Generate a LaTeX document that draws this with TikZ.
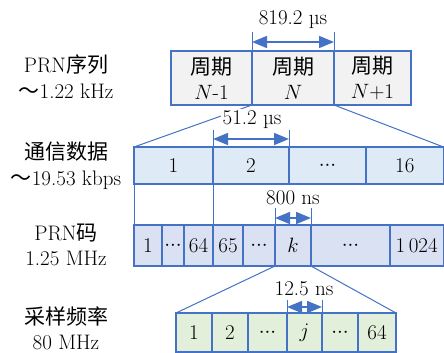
\documentclass[tikz,border=0pt]{standalone}
\usepackage{fontspec}
\newfontfamily\cjk{Noto Sans CJK SC}
\usetikzlibrary{arrows.meta}
\definecolor{lblue}{HTML}{4472C4}
\definecolor{fillgray}{HTML}{F2F2F2}
\definecolor{fillblue}{HTML}{DEEAF6}
\definecolor{fillpur}{HTML}{DAE1F3}
\definecolor{fillgreen}{HTML}{E2EFDA}
\newcommand\mydots{${\cdot}{\cdot}{\cdot}$}
\newcommand\wtilde{{\cjk ～}}
\tikzset{
  cell/.style={draw=lblue, line width=1.2pt, inner sep=0pt, outer sep=0pt, anchor=north west, align=center},
  thinline/.style={draw=lblue, line width=1pt},
  dimarrow/.style={draw=lblue, line width=1.5pt, {Triangle[length=15pt,width=12pt]}-{Triangle[length=15pt,width=12pt]}, lblue},
  lab/.style={fill=white, inner sep=2pt},
  rowlab/.style={inner sep=0pt, anchor=base},
}
\begin{document}
\begin{tikzpicture}[x=1pt,y=-1pt,font=\fontsize{21}{25}\selectfont]
\useasboundingbox (0,0) rectangle (444,353);
% row 1
\node[cell, fill=fillgray, minimum width=81pt, minimum height=54pt] (p1) at (171,51) {{\cjk 周期}\\$N$-1};
\node[cell, fill=fillgray, minimum width=82pt, minimum height=54pt] (p2) at (252,51) {{\cjk 周期}\\$N$};
\node[cell, fill=fillgray, minimum width=77pt, minimum height=54pt] (p3) at (334,51) {{\cjk 周期}\\$N$+1};
% row 2
\node[cell, fill=fillblue, minimum width=79pt, minimum height=37pt] (d1) at (134,147) {1};
\node[cell, fill=fillblue, minimum width=76pt, minimum height=37pt] (d2) at (213,147) {2};
\node[cell, fill=fillblue, minimum width=77pt, minimum height=37pt] (d3) at (289,147) {\mydots};
\node[cell, fill=fillblue, minimum width=77.5pt, minimum height=37pt] (d4) at (366,147) {16};
% row 3
\node[cell, fill=fillpur, minimum width=28pt, minimum height=41pt] (c1) at (134,225) {1};
\node[cell, fill=fillpur, minimum width=22pt, minimum height=41pt] (c2) at (162,225) {\mydots};
\node[cell, fill=fillpur, minimum width=29pt, minimum height=41pt] (c3) at (184,225) {64};
\node[cell, fill=fillpur, minimum width=30pt, minimum height=41pt] (c4) at (213,225) {65};
\node[cell, fill=fillpur, minimum width=32pt, minimum height=41pt] (c5) at (243,225) {\mydots};
\node[cell, fill=fillpur, minimum width=36pt, minimum height=41pt] (c6) at (275,225) {$k$};
\node[cell, fill=fillpur, minimum width=79pt, minimum height=41pt] (c7) at (311,225) {\mydots};
\node[cell, fill=fillpur, minimum width=53.5pt, minimum height=41pt] (c8) at (390,225) {1\,024};
% row 4
\node[cell, fill=fillgreen, minimum width=36pt, minimum height=39pt] (s1) at (176,313) {1};
\node[cell, fill=fillgreen, minimum width=36pt, minimum height=39pt] (s2) at (212,313) {2};
\node[cell, fill=fillgreen, minimum width=39pt, minimum height=39pt] (s3) at (248,313) {\mydots};
\node[cell, fill=fillgreen, minimum width=35pt, minimum height=39pt] (s4) at (287,313) {$j$};
\node[cell, fill=fillgreen, minimum width=36pt, minimum height=39pt] (s5) at (322,313) {\mydots};
\node[cell, fill=fillgreen, minimum width=38pt, minimum height=39pt] (s6) at (358,313) {64};
% left labels
\node[rowlab] (r1a) at (66,73) {PRN{\cjk 序列}};
\node[rowlab] (r1b) at (66,98) {\wtilde 1.22 kHz};
\node[rowlab] (r2a) at (66,159) {{\cjk 通信数据}};
\node[rowlab] (r2b) at (66,185) {\wtilde 19.53 kbps};
\node[rowlab] (r3a) at (66,240) {PRN{\cjk 码}};
\node[rowlab] (r3b) at (66,265) {1.25 MHz};
\node[rowlab] (r4a) at (66,324) {{\cjk 采样频率}};
\node[rowlab] (r4b) at (66,349) {80 MHz};
% fan lines
\draw[thinline] (p2.south west) -- (d1.north west);
\draw[thinline] (p3.south west) -- (d4.north east);
\draw[thinline] (d1.south west) -- (c1.north west);
\draw[thinline] (d2.south west) -- (c4.north west);
\draw[thinline] (c6.south west) -- (s1.north west);
\draw[thinline] (c6.south east) -- (s6.north east);
% dimension coordinates
\coordinate (u1a) at (252,32); \coordinate (u1b) at (334,32);
\coordinate (m1a) at (252,42); \coordinate (m1b) at (334,42);
\coordinate (u2a) at (213,130); \coordinate (u2b) at (289,130);
\coordinate (m2a) at (213,139); \coordinate (m2b) at (289,139);
\coordinate (u3a) at (275,208); \coordinate (u3b) at (311,208);
\coordinate (m3a) at (275,218); \coordinate (m3b) at (311,218);
\coordinate (u4a) at (287,300); \coordinate (u4b) at (322,300);
\coordinate (m4a) at (287,307); \coordinate (m4b) at (322,307);
\draw[thinline] (p2.north west) -- (u1a);
\draw[thinline] (p3.north west) -- (u1b);
\draw[dimarrow] (m1a) -- (m1b);
\draw[thinline] (d2.north west) -- (u2a);
\draw[thinline] (d3.north west) -- (u2b);
\draw[dimarrow] (m2a) -- (m2b);
\draw[thinline] (c6.north west) -- (u3a);
\draw[thinline] (c7.north west) -- (u3b);
\draw[dimarrow] (m3a) -- (m3b);
\draw[thinline] (s4.north west) -- (u4a);
\draw[thinline] (s5.north west) -- (u4b);
\draw[dimarrow] (m4a) -- (m4b);
% dimension labels
\node[lab] (l1) at (293,20) {819.2 µs};
\node[lab] (l2) at (252,120) {51.2 µs};
\node[lab] (l3) at (293,198) {800 ns};
\node[lab] (l4) at (304,289) {12.5 ns};
\end{tikzpicture}
\end{document}
